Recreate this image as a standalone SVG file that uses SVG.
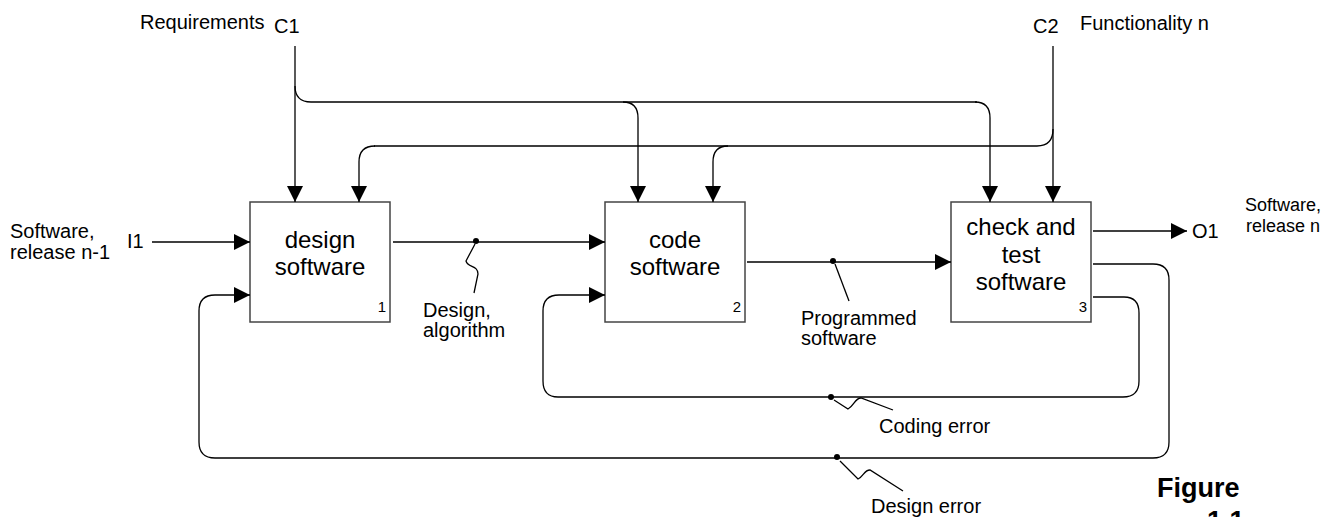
<svg xmlns="http://www.w3.org/2000/svg" width="1327" height="517" viewBox="0 0 1327 517">
  <style>
    text { font-family: "Liberation Sans", Arial, sans-serif; fill: #000; }
    .lbl { font-size: 20px; }
    .lbl-sm { font-size: 18px; }
    .box-text { font-size: 24px; text-anchor: middle; }
    .num { font-size: 15px; text-anchor: end; }
    .fig { font-size: 27px; font-weight: bold; }
    .box { fill: #fff; stroke: #444; stroke-width: 1.5; }
    .wire { fill: none; stroke: #000; stroke-width: 1.3; }
    .arrow { marker-end: url(#head); }
    .dot { fill: #000; }
  </style>
  <defs>
    <marker id="head" markerUnits="userSpaceOnUse" markerWidth="16" markerHeight="16" refX="16" refY="8" orient="auto">
      <path d="M0,0 L16,8 L0,16 z" fill="#000"/>
    </marker>
  </defs>

  <!-- activity boxes -->
  <g id="node-design">
    <rect class="box" x="250" y="202" width="140" height="120"/>
    <text class="box-text" x="320" y="248">design</text>
    <text class="box-text" x="320" y="275">software</text>
    <text class="num" x="386" y="312">1</text>
  </g>
  <g id="node-code">
    <rect class="box" x="605" y="202" width="140" height="120"/>
    <text class="box-text" x="675" y="248">code</text>
    <text class="box-text" x="675" y="275">software</text>
    <text class="num" x="741" y="312">2</text>
  </g>
  <g id="node-test">
    <rect class="box" x="951" y="202" width="140" height="120"/>
    <text class="box-text" x="1021" y="235">check and</text>
    <text class="box-text" x="1021" y="263">test</text>
    <text class="box-text" x="1021" y="290">software</text>
    <text class="num" x="1087" y="312">3</text>
  </g>

  <!-- arrows between activities and boundary -->
  <g id="connectors">
    <!-- C1 requirements -->
    <path class="wire arrow" d="M295,46 L295,202"/>
    <path class="wire" d="M295,86 Q295,102 311,102 L977,102"/>
    <path class="wire arrow" d="M623,102 Q638,102 638,118 L638,202"/>
    <path class="wire arrow" d="M975,102 Q990,102 990,118 L990,202"/>
    <!-- C2 functionality -->
    <path class="wire arrow" d="M1053,46 L1053,202"/>
    <path class="wire" d="M1053,129 Q1053,146 1037,146 L374,146"/>
    <path class="wire arrow" d="M375,146 Q359,146 359,162 L359,202"/>
    <path class="wire arrow" d="M728,146 Q713,146 713,162 L713,202"/>
    <!-- I1 input -->
    <path class="wire arrow" d="M152,242 L250,242"/>
    <!-- design -> code -->
    <path class="wire arrow" d="M393,242 L605,242"/>
    <circle class="dot" cx="476" cy="241" r="3"/>
    <path class="wire" d="M475,244 L466,261 C468,268 478,265 478,274 L474,293"/>
    <!-- code -> test -->
    <path class="wire arrow" d="M747,262 L951,262"/>
    <circle class="dot" cx="833" cy="261" r="3"/>
    <path class="wire" d="M835,264 L849,301"/>
    <!-- O1 output -->
    <path class="wire arrow" d="M1093,231 L1187,231"/>
    <!-- coding error feedback -->
    <path class="wire arrow" d="M1093,297 L1124,297 Q1139,297 1139,313 L1139,381 Q1139,397 1123,397 L558,397 Q543,397 543,381 L543,311 Q543,295 559,295 L605,295"/>
    <circle class="dot" cx="831" cy="397" r="3"/>
    <path class="wire" d="M834,400 L848,409 C854,406 855,398 861,398 L893,410"/>
    <!-- design error feedback -->
    <path class="wire arrow" d="M1093,264 L1153,264 Q1169,264 1169,280 L1169,442 Q1169,458 1153,458 L215,458 Q199,458 199,442 L199,311 Q199,295 215,295 L250,295"/>
    <circle class="dot" cx="837" cy="457" r="3"/>
    <path class="wire" d="M840,461 L858,479 C864,476 864,470 870,470 L903,491"/>
  </g>

  <!-- boundary labels -->
  <text class="lbl" x="140" y="29">Requirements</text>
  <text class="lbl" x="274" y="33">C1</text>
  <text class="lbl" x="1033" y="33">C2</text>
  <text class="lbl" x="1080" y="30">Functionality n</text>
  <text class="lbl" x="10" y="238">Software,</text>
  <text class="lbl" x="10" y="259">release n-1</text>
  <text class="lbl" x="127" y="248">I1</text>
  <text class="lbl" x="1192" y="238">O1</text>
  <text class="lbl-sm" x="1283" y="211" text-anchor="middle">Software,</text>
  <text class="lbl-sm" x="1283" y="232" text-anchor="middle">release n</text>

  <!-- arrow labels -->
  <text class="lbl" x="423" y="317">Design,</text>
  <text class="lbl" x="423" y="337">algorithm</text>
  <text class="lbl" x="801" y="325">Programmed</text>
  <text class="lbl" x="801" y="345">software</text>
  <text class="lbl" x="879" y="433">Coding error</text>
  <text class="lbl" x="871" y="513">Design error</text>

  <!-- caption, running off the lower edge -->
  <text class="fig" x="1157" y="497">Figure</text>
  <text class="fig" x="1207" y="530">1.1</text>
</svg>
